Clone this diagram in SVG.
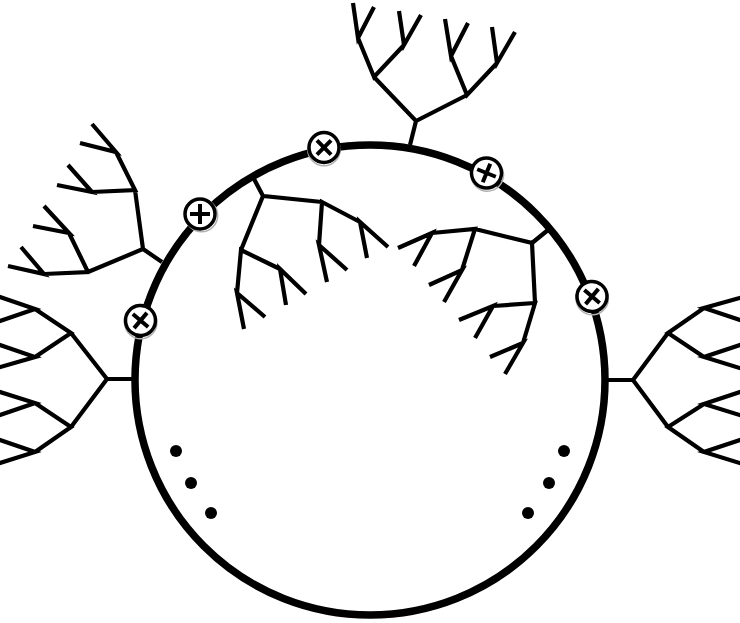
<svg xmlns="http://www.w3.org/2000/svg" width="740" height="623" viewBox="0 0 740 623">
<style>
.t{fill:none;stroke:#000;stroke-width:4.2;stroke-linecap:butt;stroke-linejoin:miter}
.ring{fill:none;stroke:#000;stroke-width:7.5}
.dot{fill:#000}
.ch circle.s{fill:none;stroke:#b0b0b0;stroke-width:1.5}
.ch circle.c{fill:#fff;stroke:#000;stroke-width:3.5}
.ch path{stroke:#000;stroke-width:4;fill:none}
</style>
<rect width="740" height="623" fill="#fff"/>
<g id="cell">
<circle class="ring" cx="370" cy="380" r="235"/>
</g>
<g id="connectors">
<path class="t" d="M162,262 L143,249 M135,190 L143,249 L88,272 M116,152 L135,190 L92,192 M92,124 L116,152 L80,143 M68,165 L92,192 L57,185 M69,233 L88,272 L44,274 M44,206 L69,233 L33,226 M21,247 L44,274 L8,266"/>
<path class="t" d="M133,379 L107,379 M71,333 L107,379 L71,427 M35,309 L71,333 L35,357 M-3,296 L35,309 L-3,322 M-3,344 L35,357 L-3,368 M35,403 L71,427 L35,452 M-3,391 L35,403 L-3,416 M-3,439 L35,452 L-3,464"/>
<path class="t" d="M607,380 L633,380 M668,333 L633,380 L668,427 M704,308 L668,333 L704,357 M743,297 L704,308 L743,321 M743,344 L704,357 L743,369 M704,404 L668,427 L704,452 M743,391 L704,404 L743,416 M743,439 L704,452 L743,464"/>
<path class="t" d="M410,145 L416,121 M374,77 L416,121 L467,95 M358,38 L374,77 L404,45 M353,3 L358,38 L374,7 M399,11 L404,45 L421,15 M451,56 L467,95 L497,63 M445,19 L451,56 L468,23 M492,27 L497,63 L515,32"/>
<path class="t" d="M253,177 L263,196 M322,202 L263,196 L241,250 M360,222 L322,202 L319,245 M388,247 L360,222 L367,258 M347,270 L319,245 L327,282 M280,269 L241,250 L237,293 M306,294 L280,269 L286,305 M265,317 L237,293 L244,329"/>
<path class="t" d="M548,230 L532,243 M475,229 L532,243 L535,303 M432,233 L475,229 L462,270 M398,248 L432,233 L414,266 M429,285 L462,270 L444,302 M493,306 L535,303 L523,343 M459,320 L493,306 L475,338 M490,357 L523,343 L505,374"/>
</g>
<g id="dots-left">
<circle class="dot" cx="176" cy="451" r="6"/>
<circle class="dot" cx="191" cy="483" r="6"/>
<circle class="dot" cx="211" cy="513" r="6"/>
</g>
<g id="dots-right">
<circle class="dot" cx="564" cy="451" r="6"/>
<circle class="dot" cx="549" cy="483" r="6"/>
<circle class="dot" cx="528" cy="513" r="6"/>
</g>
<defs>
<g id="charge" class="ch">
<circle class="s" cx="1.5" cy="1.5" r="16.2"/>
<circle class="c" cx="0" cy="0" r="15"/>
<path d="M-10,0 H10 M0,-10 V10"/>
</g>
</defs>
<g id="charge1"><use href="#charge" transform="translate(140.5,320.5) rotate(40)"/></g>
<g id="charge2"><use href="#charge" transform="translate(200,214)"/></g>
<g id="charge3"><use href="#charge" transform="translate(324,147.5) rotate(45)"/></g>
<g id="charge4"><use href="#charge" transform="translate(486.5,173) rotate(22)"/></g>
<g id="charge5"><use href="#charge" transform="translate(592,296.5) rotate(40)"/></g>
</svg>
